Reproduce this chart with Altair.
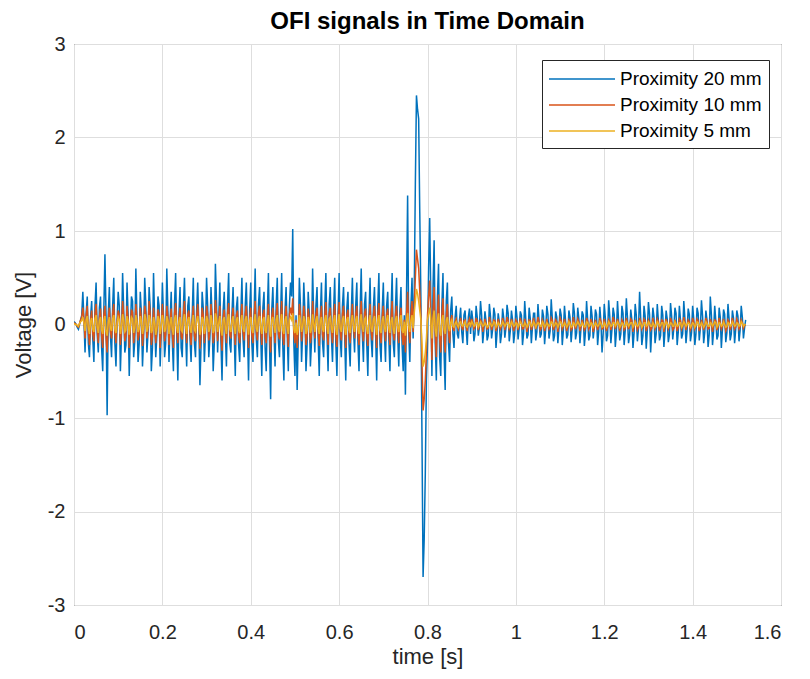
import altair as alt
import numpy as np
import pandas as pd

DT = 0.005  # spacing of the main samples [s]; "mid" samples sit half-way between

# Proximity 20 mm (blue) – main samples, 0.1 s per row
blue = [
    0.03, 0.0, -0.05, 0.05, 0.35, -0.3, 0.3, -0.35, 0.25, -0.4, 0.45, -0.3, 0.3, -0.5, 0.75, -0.97, 0.4, -0.35, 0.5, -0.45,
    0.35, -0.5, 0.55, -0.3, 0.45, -0.55, 0.3, -0.35, 0.6, -0.4, 0.35, -0.45, 0.5, -0.3, 0.4, -0.5, 0.55, -0.35, 0.3, -0.45,
    0.45, -0.35, 0.6, -0.4, 0.35, -0.5, 0.55, -0.6, 0.4, -0.35, 0.5, -0.45, 0.3, -0.4, 0.5, -0.35, 0.45, -0.65, 0.35, -0.4,
    0.5, -0.35, 0.4, -0.5, 0.65, -0.3, 0.45, -0.6, 0.35, -0.45, 0.55, -0.3, 0.4, -0.55, 0.3, -0.4, 0.5, -0.35, 0.45, -0.6,
    0.45, -0.4, 0.6, -0.35, 0.4, -0.55, 0.35, -0.5, 0.55, -0.8, 0.4, -0.45, 0.5, -0.35, 0.55, -0.6, 0.4, -0.5, 0.45, 1.02,
    -0.55, -0.7, 0.5, -0.4, 0.45, -0.5, 0.35, -0.45, 0.6, -0.3, 0.4, -0.55, 0.45, -0.35, 0.55, -0.5, 0.4, -0.4, 0.5, -0.55,
    0.55, -0.35, 0.4, -0.6, 0.35, -0.45, 0.5, -0.3, 0.45, -0.5, 0.6, -0.4, 0.35, -0.55, 0.5, -0.35, 0.4, -0.6, 0.55, -0.4,
    0.45, -0.4, 0.35, -0.5, 0.55, -0.35, 0.5, -0.45, 0.4, -0.5, -0.75, 1.38, -0.4, 0.5, 0.35, 2.45, 2.2, 0.3, -2.7, -1.6,
    -0.2, 1.14, -0.55, 0.9, -0.6, 0.65, -0.55, 0.55, -0.7, 0.45, -0.4, 0.3, -0.25, 0.2, -0.15, 0.18, -0.2, 0.15, -0.22, 0.17,
    0.15, -0.18, 0.2, -0.12, 0.25, -0.2, 0.14, -0.17, 0.22, -0.15, 0.18, -0.25, 0.12, -0.2, 0.17, -0.14, 0.21, -0.18, 0.15, -0.2,
    0.2, -0.16, 0.14, -0.22, 0.25, -0.15, 0.18, -0.2, 0.12, -0.17, 0.22, -0.14, 0.16, -0.21, 0.2, -0.15, 0.27, -0.18, 0.14, -0.2,
    0.17, -0.22, 0.2, -0.15, 0.15, -0.19, 0.23, -0.16, 0.18, -0.2, 0.14, -0.23, 0.25, -0.17, 0.2, -0.15, 0.16, -0.22, 0.19, -0.3,
    0.22, -0.18, 0.26, -0.2, 0.18, -0.24, 0.25, -0.17, 0.2, -0.22, 0.28, -0.2, 0.16, -0.25, 0.22, -0.18, 0.35, -0.22, 0.2, -0.26,
    0.24, -0.3, 0.18, -0.2, 0.22, -0.17, 0.2, -0.24, 0.15, -0.19, 0.23, -0.16, 0.18, -0.22, 0.2, -0.15, 0.25, -0.2, 0.17, -0.18,
    0.2, -0.22, 0.18, -0.17, 0.26, -0.2, 0.15, -0.24, 0.3, -0.22, 0.2, -0.16, 0.18, -0.25, 0.16, -0.19, 0.22, -0.17, 0.15, -0.2,
    0.15, -0.18, 0.2, -0.15, 0.05,
]
blue_mid = [
    0.02, -0.03, 0.0, 0.1, 0.05, 0.12, -0.2, 0.08, -0.15, 0.2, -0.1, 0.18, -0.25, 0.15, 0.1, 0.1, -0.12, 0.2, -0.2, 0.05,
    0.2, -0.1, 0.15, -0.22, 0.1, -0.05, 0.25, -0.18, 0.08, -0.2, 0.12, -0.15, 0.22, -0.1, 0.18, -0.25, 0.05, -0.12, 0.2, -0.08,
    0.1, -0.2, 0.15, 0.05, -0.18, 0.22, -0.1, 0.12, -0.25, 0.18, -0.05, 0.2, -0.15, 0.1, -0.2, 0.15, 0.0, -0.22, 0.18, -0.1,
    0.2, -0.15, 0.1, -0.2, 0.25, 0.05, -0.18, 0.15, -0.1, 0.22, -0.2, 0.12, -0.08, 0.18, -0.22, 0.1, -0.15, 0.2, -0.05, 0.15,
    -0.2, 0.1, -0.15, 0.22, -0.1, 0.18, -0.25, 0.12, -0.2, 0.15, -0.05, 0.2, -0.18, 0.1, -0.22, 0.15, -0.1, 0.2, 0.3, -0.2,
    0.1, -0.15, 0.2, -0.08, 0.15, -0.22, 0.12, -0.18, 0.05, 0.2, -0.15, 0.1, -0.2, 0.18, -0.1, 0.22, -0.12, 0.15, -0.2, 0.1,
    -0.15, 0.2, -0.1, 0.18, -0.22, 0.12, -0.05, 0.2, -0.18, 0.15, -0.1, 0.22, -0.2, 0.1, -0.15, 0.18, -0.08, 0.2, -0.22, 0.15,
    -0.1, 0.2, -0.15, 0.12, -0.2, 0.18, -0.1, 0.15, -0.22, 0.1, 0.3, -0.1, 0.2, -0.15, 1.5, 2.3, 1.2, -1.2, -2.3, -0.6,
    0.6, 0.3, 0.4, -0.2, 0.3, -0.35, 0.2, -0.3, 0.25, -0.2, 0.15, -0.1, 0.08, -0.1, 0.05, -0.08, 0.1, -0.05, 0.08, -0.1,
    0.05, -0.1, 0.08, -0.03, 0.1, -0.07, 0.04, -0.12, 0.09, -0.05, 0.11, -0.08, 0.03, -0.1, 0.07, -0.04, 0.12, -0.06, 0.05, -0.09,
    0.08, -0.04, 0.1, -0.09, 0.05, -0.11, 0.07, -0.03, 0.12, -0.08, 0.04, -0.1, 0.09, -0.05, 0.11, -0.07, 0.06, -0.12, 0.08, -0.04,
    0.1, -0.06, 0.04, -0.11, 0.08, -0.05, 0.12, -0.09, 0.06, -0.03, 0.1, -0.08, 0.05, -0.12, 0.09, -0.04, 0.11, -0.07, 0.03, -0.1,
    0.07, -0.12, 0.09, -0.05, 0.11, -0.08, 0.04, -0.1, 0.12, -0.06, 0.08, -0.11, 0.05, -0.09, 0.1, -0.04, 0.07, -0.12, 0.09, -0.06,
    0.11, -0.05, 0.08, -0.1, 0.04, -0.12, 0.1, -0.07, 0.06, -0.11, 0.09, -0.04, 0.12, -0.08, 0.05, -0.1, 0.07, -0.06, 0.11, -0.09,
    0.06, -0.1, 0.12, -0.04, 0.09, -0.08, 0.05, -0.11, 0.1, -0.07, 0.04, -0.12, 0.08, -0.05, 0.11, -0.09, 0.06, -0.1, 0.07, -0.05,
    0.09, -0.06, 0.08, -0.04,
]

# Proximity 10 mm (orange)
orange = [
    0.02, 0.0, -0.03, 0.05, 0.18, -0.15, 0.2, -0.22, 0.15, -0.18, 0.22, -0.2, 0.17, -0.25, 0.2, -0.3, 0.18, -0.15, 0.22, -0.2,
    0.15, -0.22, 0.25, -0.18, 0.2, -0.25, 0.16, -0.2, 0.22, -0.17, 0.18, -0.23, 0.2, -0.15, 0.25, -0.22, 0.18, -0.2, 0.16, -0.25,
    0.22, -0.18, 0.2, -0.22, 0.17, -0.25, 0.23, -0.2, 0.18, -0.16, 0.25, -0.2, 0.15, -0.22, 0.2, -0.18, 0.22, -0.26, 0.18, -0.2,
    0.2, -0.17, 0.22, -0.2, 0.26, -0.18, 0.2, -0.28, 0.16, -0.2, 0.23, -0.15, 0.18, -0.22, 0.15, -0.2, 0.22, -0.17, 0.2, -0.25,
    0.18, -0.2, 0.25, -0.17, 0.2, -0.22, 0.16, -0.2, 0.22, -0.3, 0.18, -0.2, 0.23, -0.16, 0.25, -0.22, 0.2, -0.24, 0.18, 0.28,
    -0.2, -0.25, 0.22, -0.18, 0.2, -0.22, 0.17, -0.2, 0.25, -0.15, 0.18, -0.23, 0.2, -0.17, 0.24, -0.22, 0.18, -0.2, 0.22, -0.24,
    0.24, -0.17, 0.2, -0.25, 0.16, -0.2, 0.22, -0.15, 0.2, -0.22, 0.25, -0.18, 0.17, -0.23, 0.22, -0.17, 0.2, -0.25, 0.23, -0.2,
    0.2, -0.18, 0.17, -0.22, 0.25, -0.17, 0.2, -0.2, 0.18, -0.22, -0.3, 0.35, -0.2, 0.25, 0.2, 0.8, 0.6, 0.1, -0.92, -0.6,
    0.1, 0.47, -0.38, 0.4, -0.35, 0.32, -0.3, 0.28, -0.3, 0.22, -0.2, 0.1, -0.07, 0.06, -0.05, 0.07, -0.06, 0.05, -0.07, 0.06,
    0.06, -0.05, 0.07, -0.06, 0.05, -0.08, 0.06, -0.05, 0.08, -0.06, 0.05, -0.07, 0.06, -0.05, 0.07, -0.06, 0.08, -0.05, 0.06, -0.07,
    0.05, -0.06, 0.07, -0.05, 0.06, -0.08, 0.05, -0.06, 0.07, -0.05, 0.08, -0.06, 0.05, -0.07, 0.06, -0.05, 0.07, -0.06, 0.05, -0.08,
    0.07, -0.05, 0.06, -0.07, 0.05, -0.06, 0.08, -0.05, 0.06, -0.07, 0.05, -0.06, 0.07, -0.05, 0.06, -0.08, 0.05, -0.06, 0.07, -0.05,
    0.06, -0.07, 0.05, -0.06, 0.08, -0.05, 0.06, -0.07, 0.05, -0.06, 0.07, -0.05, 0.06, -0.08, 0.05, -0.06, 0.07, -0.05, 0.06, -0.07,
    0.05, -0.06, 0.07, -0.05, 0.06, -0.07, 0.05, -0.08, 0.06, -0.05, 0.07, -0.06, 0.05, -0.07, 0.06, -0.05, 0.08, -0.06, 0.05, -0.06,
    0.07, -0.05, 0.06, -0.07, 0.05, -0.06, 0.07, -0.05, 0.06, -0.08, 0.05, -0.06, 0.07, -0.05, 0.06, -0.07, 0.05, -0.06, 0.07, -0.05,
    0.06, -0.05, 0.05, -0.04, 0.0,
]
orange_mid = [
    0.01, -0.02, 0.01, 0.08, 0.05, 0.1, -0.08, 0.05, -0.1, 0.12, -0.05, 0.08, -0.12, 0.1, -0.15, 0.05, -0.08, 0.12, -0.1, 0.03,
    0.1, -0.05, 0.08, -0.12, 0.06, -0.03, 0.13, -0.09, 0.04, -0.1, 0.07, -0.08, 0.12, -0.05, 0.1, -0.13, 0.03, -0.07, 0.11, -0.04,
    0.06, -0.11, 0.09, 0.03, -0.1, 0.12, -0.06, 0.07, -0.13, 0.1, -0.03, 0.11, -0.08, 0.05, -0.12, 0.08, 0.0, -0.11, 0.1, -0.06,
    0.11, -0.08, 0.05, -0.12, 0.13, 0.03, -0.1, 0.08, -0.06, 0.12, -0.11, 0.07, -0.04, 0.1, -0.12, 0.06, -0.08, 0.11, -0.03, 0.08,
    -0.11, 0.06, -0.08, 0.12, -0.05, 0.1, -0.13, 0.07, -0.11, 0.08, -0.03, 0.11, -0.1, 0.05, -0.12, 0.08, -0.06, 0.11, 0.1, -0.1,
    0.05, -0.08, 0.11, -0.04, 0.08, -0.12, 0.07, -0.1, 0.03, 0.11, -0.08, 0.06, -0.11, 0.1, -0.05, 0.12, -0.07, 0.08, -0.11, 0.06,
    -0.08, 0.11, -0.06, 0.1, -0.12, 0.07, -0.03, 0.11, -0.1, 0.08, -0.05, 0.12, -0.11, 0.06, -0.08, 0.1, -0.04, 0.11, -0.12, 0.08,
    -0.05, 0.11, -0.08, 0.07, -0.11, 0.1, -0.06, 0.08, -0.12, 0.05, 0.1, -0.05, 0.1, -0.08, 0.5, 0.7, 0.35, -0.4, -0.8, -0.3,
    0.3, 0.1, 0.15, -0.1, 0.12, -0.15, 0.1, -0.12, 0.1, -0.08, 0.05, -0.04, 0.03, -0.02, 0.02, -0.03, 0.04, -0.02, 0.03, -0.03,
    0.02, -0.03, 0.04, -0.01, 0.03, -0.02, 0.01, -0.04, 0.03, -0.02, 0.04, -0.03, 0.01, -0.02, 0.03, -0.01, 0.04, -0.02, 0.02, -0.03,
    0.03, -0.01, 0.02, -0.04, 0.01, -0.03, 0.04, -0.02, 0.02, -0.01, 0.03, -0.04, 0.02, -0.03, 0.01, -0.02, 0.04, -0.03, 0.03, -0.01,
    0.04, -0.02, 0.01, -0.03, 0.03, -0.04, 0.02, -0.01, 0.03, -0.02, 0.01, -0.04, 0.04, -0.02, 0.02, -0.03, 0.01, -0.02, 0.03, -0.04,
    0.01, -0.03, 0.03, -0.02, 0.04, -0.01, 0.02, -0.03, 0.03, -0.04, 0.02, -0.01, 0.04, -0.02, 0.01, -0.03, 0.03, -0.02, 0.04, -0.03,
    0.02, -0.04, 0.01, -0.02, 0.03, -0.03, 0.04, -0.01, 0.02, -0.02, 0.03, -0.04, 0.01, -0.03, 0.04, -0.02, 0.02, -0.01, 0.03, -0.03,
    0.03, -0.02, 0.04, -0.03, 0.01, -0.02, 0.03, -0.04, 0.02, -0.01, 0.04, -0.03, 0.02, -0.02, 0.01, -0.04, 0.03, -0.02, 0.02, -0.03,
    0.03, -0.02, 0.02, -0.01,
]

# Proximity 5 mm (yellow)
yellow = [
    0.01, 0.0, -0.02, 0.03, 0.08, -0.07, 0.09, -0.1, 0.07, -0.08, 0.1, -0.09, 0.08, -0.1, 0.09, -0.12, 0.08, -0.07, 0.1, -0.09,
    0.08, -0.1, 0.11, -0.08, 0.09, -0.11, 0.08, -0.09, 0.1, -0.08, 0.09, -0.1, 0.11, -0.08, 0.1, -0.09, 0.08, -0.11, 0.09, -0.1,
    0.1, -0.08, 0.09, -0.1, 0.08, -0.11, 0.1, -0.09, 0.08, -0.08, 0.11, -0.1, 0.08, -0.09, 0.1, -0.08, 0.09, -0.11, 0.08, -0.1,
    0.09, -0.08, 0.1, -0.09, 0.12, -0.08, 0.09, -0.12, 0.08, -0.1, 0.11, -0.08, 0.09, -0.1, 0.08, -0.09, 0.1, -0.08, 0.09, -0.11,
    0.08, -0.09, 0.11, -0.08, 0.09, -0.1, 0.08, -0.09, 0.1, -0.13, 0.08, -0.09, 0.1, -0.08, 0.11, -0.1, 0.09, -0.1, 0.08, 0.12,
    -0.09, -0.11, 0.1, -0.08, 0.09, -0.1, 0.08, -0.09, 0.11, -0.08, 0.09, -0.1, 0.08, -0.08, 0.1, -0.1, 0.08, -0.09, 0.1, -0.11,
    0.11, -0.08, 0.09, -0.11, 0.08, -0.09, 0.1, -0.08, 0.09, -0.1, 0.11, -0.08, 0.08, -0.1, 0.1, -0.08, 0.09, -0.11, 0.1, -0.09,
    0.09, -0.08, 0.1, -0.09, 0.08, -0.1, 0.09, -0.08, 0.1, -0.09, -0.12, 0.12, -0.08, 0.1, 0.12, 0.38, 0.25, 0.05, -0.45, -0.3,
    0.05, 0.18, -0.15, 0.15, -0.13, 0.12, -0.12, 0.1, -0.1, 0.08, -0.07, 0.05, -0.03, 0.03, -0.03, 0.03, -0.02, 0.03, -0.03, 0.02,
    0.03, -0.02, 0.02, -0.03, 0.03, -0.02, 0.02, -0.03, 0.02, -0.02, 0.03, -0.03, 0.02, -0.02, 0.03, -0.02, 0.02, -0.03, 0.03, -0.02,
    0.02, -0.03, 0.03, -0.02, 0.02, -0.03, 0.03, -0.02, 0.03, -0.03, 0.02, -0.02, 0.03, -0.03, 0.02, -0.02, 0.03, -0.02, 0.02, -0.03,
    0.03, -0.02, 0.02, -0.03, 0.03, -0.03, 0.02, -0.02, 0.03, -0.02, 0.02, -0.03, 0.03, -0.02, 0.02, -0.03, 0.02, -0.02, 0.03, -0.03,
    0.02, -0.03, 0.03, -0.02, 0.02, -0.02, 0.03, -0.03, 0.02, -0.03, 0.03, -0.02, 0.02, -0.03, 0.03, -0.02, 0.03, -0.03, 0.02, -0.02,
    0.03, -0.02, 0.02, -0.03, 0.03, -0.02, 0.02, -0.03, 0.03, -0.03, 0.02, -0.02, 0.03, -0.02, 0.02, -0.03, 0.03, -0.02, 0.02, -0.03,
    0.02, -0.03, 0.03, -0.02, 0.02, -0.03, 0.03, -0.02, 0.02, -0.02, 0.03, -0.03, 0.02, -0.02, 0.03, -0.03, 0.02, -0.02, 0.03, -0.02,
    0.02, -0.02, 0.03, -0.02, 0.0,
]
yellow_mid = [
    0.0, -0.01, 0.01, 0.04, 0.02, 0.05, -0.04, 0.03, -0.05, 0.06, -0.02, 0.04, -0.06, 0.05, -0.07, 0.02, -0.04, 0.06, -0.05, 0.01,
    0.05, -0.02, 0.04, -0.06, 0.03, -0.01, 0.06, -0.04, 0.02, -0.05, 0.03, -0.04, 0.06, -0.02, 0.05, -0.06, 0.01, -0.03, 0.05, -0.02,
    0.03, -0.05, 0.04, 0.01, -0.05, 0.06, -0.03, 0.03, -0.06, 0.05, -0.01, 0.05, -0.04, 0.02, -0.06, 0.04, 0.0, -0.05, 0.05, -0.03,
    0.05, -0.04, 0.02, -0.06, 0.06, 0.01, -0.05, 0.04, -0.03, 0.06, -0.05, 0.03, -0.02, 0.05, -0.06, 0.03, -0.04, 0.05, -0.01, 0.04,
    -0.05, 0.03, -0.04, 0.06, -0.02, 0.05, -0.06, 0.03, -0.05, 0.04, -0.01, 0.05, -0.05, 0.02, -0.06, 0.04, -0.03, 0.05, 0.05, -0.05,
    0.02, -0.04, 0.05, -0.02, 0.04, -0.06, 0.03, -0.05, 0.01, 0.05, -0.04, 0.03, -0.05, 0.05, -0.02, 0.06, -0.03, 0.04, -0.05, 0.03,
    -0.04, 0.05, -0.03, 0.05, -0.06, 0.03, -0.01, 0.05, -0.05, 0.04, -0.02, 0.06, -0.05, 0.03, -0.04, 0.05, -0.02, 0.05, -0.06, 0.04,
    -0.03, 0.05, -0.04, 0.03, -0.05, 0.05, -0.03, 0.04, -0.06, 0.03, 0.04, -0.02, 0.04, -0.04, 0.25, 0.33, 0.15, -0.2, -0.4, -0.15,
    0.12, 0.05, 0.06, -0.05, 0.05, -0.06, 0.04, -0.05, 0.04, -0.03, 0.02, -0.02, 0.01, -0.01, 0.02, -0.01, 0.01, -0.02, 0.01, -0.01,
    0.01, -0.01, 0.02, 0.0, 0.01, -0.01, 0.0, -0.02, 0.01, -0.01, 0.02, -0.01, 0.0, -0.01, 0.01, 0.0, 0.02, -0.01, 0.01, -0.01,
    0.01, 0.0, 0.01, -0.02, 0.0, -0.01, 0.02, -0.01, 0.01, 0.0, 0.01, -0.02, 0.01, -0.01, 0.0, -0.01, 0.02, -0.01, 0.01, 0.0,
    0.02, -0.01, 0.0, -0.01, 0.01, -0.02, 0.01, 0.0, 0.01, -0.01, 0.0, -0.02, 0.02, -0.01, 0.01, -0.01, 0.0, -0.01, 0.01, -0.02,
    0.0, -0.01, 0.01, -0.01, 0.02, 0.0, 0.01, -0.01, 0.01, -0.02, 0.01, 0.0, 0.02, -0.01, 0.0, -0.01, 0.01, -0.01, 0.02, -0.01,
    0.01, -0.02, 0.0, -0.01, 0.01, -0.01, 0.02, 0.0, 0.01, -0.01, 0.01, -0.02, 0.0, -0.01, 0.02, -0.01, 0.01, 0.0, 0.01, -0.01,
    0.01, -0.01, 0.02, -0.01, 0.0, -0.01, 0.01, -0.02, 0.01, 0.0, 0.02, -0.01, 0.01, -0.01, 0.0, -0.02, 0.01, -0.01, 0.01, -0.01,
    0.01, -0.01, 0.01, 0.0,
]

series_names = ["Proximity 20 mm", "Proximity 10 mm", "Proximity 5 mm"]
series_colors = ["#0072BD", "#D95319", "#EDB120"]
x_ticks = [0, 0.2, 0.4, 0.6, 0.8, 1.0, 1.2, 1.4, 1.6]
y_ticks = [-3, -2, -1, 0, 1, 2, 3]

FONT = "Liberation Sans"

color_scale = alt.Scale(domain=series_names, range=series_colors)
x_enc = alt.X(
    "t:Q",
    scale=alt.Scale(domain=[0, 1.6], nice=False),
    axis=alt.Axis(values=x_ticks, title="time [s]", labelExpr="toString(datum.value)",
                  labelPadding=17, titlePadding=4),
)
y_enc = alt.Y(
    "v:Q",
    scale=alt.Scale(domain=[-3, 3], nice=False),
    axis=alt.Axis(values=y_ticks, title="Voltage [V]", labelExpr="toString(datum.value)",
                  labelPadding=9, titlePadding=12),
)


def build_frame(main, mid, name):
    t_main = np.arange(len(main)) * DT
    t_mid = np.arange(len(mid)) * DT + DT / 2
    df = pd.DataFrame({
        "t": np.concatenate([t_main, t_mid]),
        "v": list(main) + list(mid),
        "s": name,
    })
    return df.sort_values("t").reset_index(drop=True)


def layer(main, mid, name):
    df = build_frame(main, mid, name)
    return alt.Chart(df).mark_line(strokeWidth=1.5, clip=True).encode(
        x=x_enc,
        y=y_enc,
        order="t:Q",
        color=alt.Color(
            "s:N",
            scale=color_scale,
            sort=series_names,
            legend=alt.Legend(
                title=None,
                orient="none",
                legendX=468,
                legendY=16,
                symbolType="M-3,0H3",
                symbolSize=484,
                symbolStrokeWidth=1.5,
                symbolOffset=21,
                labelFontSize=19,
                labelFont=FONT,
                labelColor="#000000",
                labelOffset=26,
                strokeColor="#262626",
                fillColor="white",
                padding=7,
                rowPadding=4,
            ),
        ),
    )


chart = (
    alt.layer(
        layer(blue, blue_mid, series_names[0]),
        layer(orange, orange_mid, series_names[1]),
        layer(yellow, yellow_mid, series_names[2]),
    )
    .properties(
        width=707,
        height=561,
        autosize=alt.AutoSizeParams(type="none"),
        padding={"left": 74, "top": 44, "right": 29, "bottom": 74},
        title=alt.TitleParams(
            "OFI signals in Time Domain",
            fontSize=24,
            fontWeight="bold",
            font=FONT,
            color="#000000",
            anchor="middle",
            offset=0,
        ),
        background="white",
    )
    .configure_view(stroke="#262626", strokeWidth=1)
    .configure_axis(
        labelFont=FONT,
        titleFont=FONT,
        labelFontSize=20,
        titleFontSize=22,
        titleFontWeight="normal",
        labelColor="#262626",
        titleColor="#262626",
        grid=True,
        gridColor="#dedede",
        gridWidth=1,
        domain=False,
        ticks=False,
    )
)

chart.save("out.html", embed_options={"renderer": "svg", "actions": False})
